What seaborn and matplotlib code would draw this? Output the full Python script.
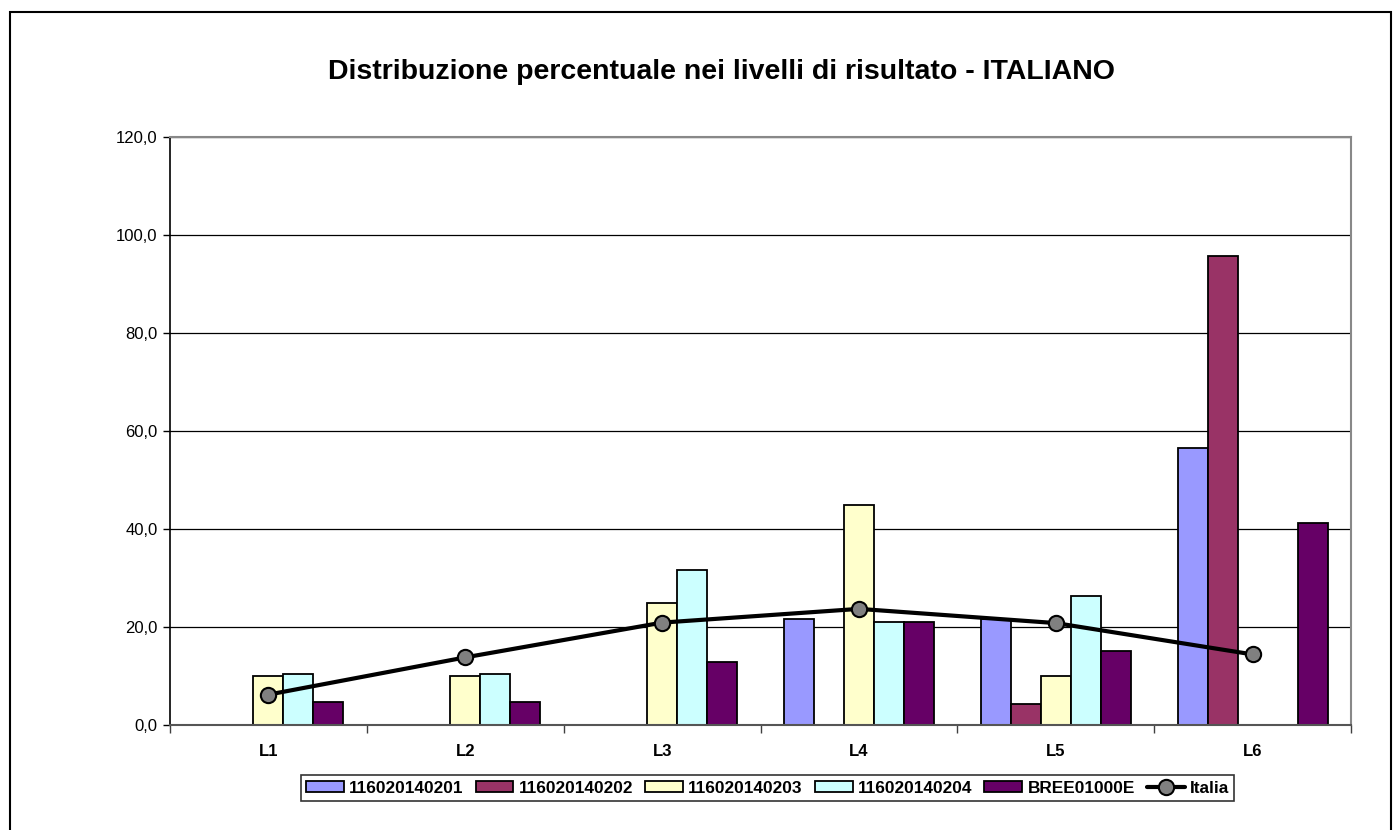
import pandas as pd
import numpy as np
import seaborn as sns
import matplotlib.pyplot as plt
from matplotlib.patches import Rectangle
from matplotlib.ticker import FuncFormatter, FixedLocator

# data
livelli = ['L1', 'L2', 'L3', 'L4', 'L5', 'L6']
classi = ['116020140201', '116020140202', '116020140203', '116020140204', 'BREE01000E']
v_0201 = [np.nan, np.nan, np.nan, 21.6, 21.6, 56.5]
v_0202 = [np.nan, np.nan, np.nan, np.nan, 4.3, 95.7]
v_0203 = [10.0, 10.0, 25.0, 45.0, 10.0, np.nan]
v_0204 = [10.5, 10.5, 31.6, 21.0, 26.3, np.nan]
v_bree = [4.6, 4.6, 12.9, 21.1, 15.2, 41.2]
italia = [6.2, 13.8, 20.9, 23.7, 20.8, 14.4]
colori = ['#9999FF', '#993366', '#FFFFCC', '#CCFFFF', '#660066']

rows = []
for nome, vals in zip(classi, [v_0201, v_0202, v_0203, v_0204, v_bree]):
    for liv, v in zip(livelli, vals):
        rows.append([liv, nome, v])
df = pd.DataFrame(rows, columns=['livello', 'classe', 'perc'])

sns.set_theme(style='white')
plt.rcParams['font.family'] = ['Liberation Sans', 'DejaVu Sans']
plt.rcParams['text.color'] = 'black'
plt.rcParams['xtick.color'] = 'black'
plt.rcParams['ytick.color'] = 'black'
plt.rcParams['axes.labelcolor'] = 'black'

fig = plt.figure(figsize=(13.93, 8.30), dpi=100)
ax = fig.add_axes([0.122, 0.1265, 0.848, 0.7084])

sns.barplot(data=df, x='livello', y='perc', hue='classe', order=livelli,
            hue_order=classi, palette=colori, width=0.76, saturation=1,
            edgecolor='black', linewidth=1.3, errorbar=None, ax=ax)
sns.pointplot(x=livelli, y=italia, order=livelli, color='black', markers='o',
              linewidth=3, markersize=11, markerfacecolor='#808080',
              markeredgecolor='black', markeredgewidth=1.5, label='Italia', ax=ax)

ax.set_ylim(0, 120)
ax.set_xlim(-0.5, 5.5)
ax.set_yticks(np.arange(0, 121, 20))
ax.yaxis.set_major_formatter(FuncFormatter(lambda v, p: ('%.1f' % v).replace('.', ',')))
ax.grid(axis='y', color='black', linewidth=0.9)
ax.set_axisbelow(True)
ax.set_xlabel('')
ax.set_ylabel('')
for lab in ax.get_xticklabels():
    lab.set_fontweight('bold')
ax.tick_params(axis='x', which='major', length=0, labelsize=12, pad=14, labelcolor='black')
ax.xaxis.set_minor_locator(FixedLocator(np.arange(-0.5, 6, 1)))
ax.tick_params(axis='x', which='minor', length=6, color='#404040', width=1, bottom=True)
ax.tick_params(axis='y', length=5, color='black', width=1, left=True, labelsize=12, pad=4,
               labelcolor='black')
ax.spines['left'].set_color('black')
ax.spines['left'].set_linewidth(1.2)
ax.spines['bottom'].set_color('#555555')
ax.spines['bottom'].set_linewidth(1.5)
ax.spines['top'].set_color('#888888')
ax.spines['top'].set_linewidth(1.5)
ax.spines['right'].set_color('#888888')
ax.spines['right'].set_linewidth(1.5)

handles, labels = ax.get_legend_handles_labels()
if ax.get_legend() is not None:
    ax.get_legend().remove()
leg = fig.legend(handles, labels, loc='center', bbox_to_anchor=(0.551, 0.0506),
                 ncol=6, frameon=True, fancybox=False, edgecolor='black',
                 handlelength=2.2, handleheight=0.6, handletextpad=0.3,
                 columnspacing=0.7, borderpad=0.3, borderaxespad=0,
                 prop={'weight': 'bold', 'size': 12.4})
leg.get_frame().set_linewidth(1.2)
for t in leg.get_texts():
    t.set_color('black')

fig.text(0.518, 0.913, 'Distribuzione percentuale nei livelli di risultato - ITALIANO',
         ha='center', va='center', fontsize=20.5, fontweight='bold', color='black')

fig.patches.append(Rectangle((10 / 1393, -0.05), 1381 / 1393, 1 - 12 / 830 + 0.05,
                             transform=fig.transFigure, fill=False,
                             edgecolor='black', linewidth=1.5))

fig.savefig('out.png', dpi=100)
